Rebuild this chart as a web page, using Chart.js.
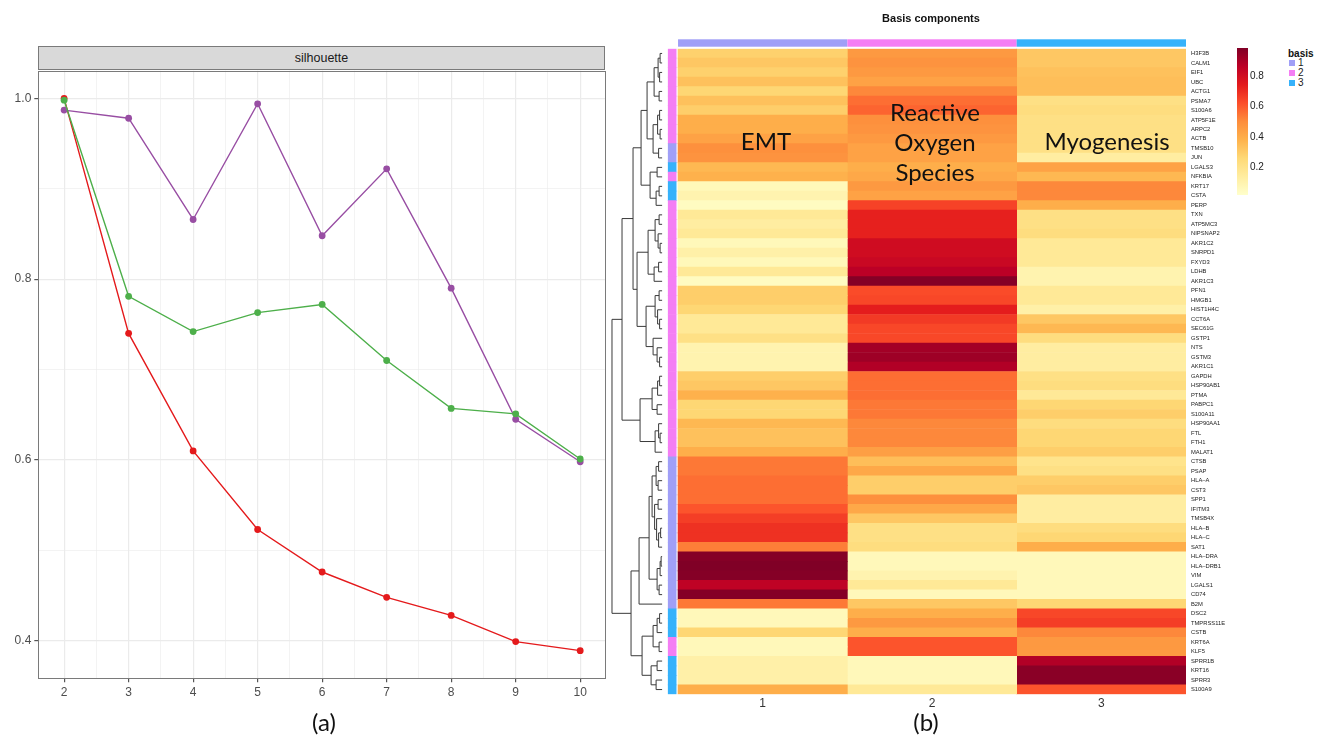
<!DOCTYPE html>
<html><head><meta charset="utf-8">
<script src="https://cdn.jsdelivr.net/npm/chart.js@4.4.0/dist/chart.umd.min.js"></script>
<style>
html,body{margin:0;padding:0;background:#fff;width:1325px;height:736px;overflow:hidden;font-family:"Liberation Sans",Arial,sans-serif;}
canvas{position:absolute;top:0;}
.t{position:absolute;white-space:nowrap;transform:translate(-50%,-50%);line-height:1;}
.big{font-family:Lato,"Open Sans",sans-serif;font-size:24px;color:#111;}
#strip{position:absolute;left:38px;top:46px;width:567px;height:24px;background:#d9d9d9;border:1px solid #7a7a7a;box-sizing:border-box;text-align:center;font-size:12.5px;line-height:22px;color:#1a1a1a;}
#cbar{position:absolute;left:1237px;top:48px;width:11px;height:147px;}
.cbl{position:absolute;left:1250px;font-size:10px;color:#222;transform:translateY(-50%);line-height:1;}
.lgsq{position:absolute;left:1289px;width:6px;height:6px;}
.lgl{position:absolute;left:1298px;font-size:10px;color:#222;transform:translateY(-50%);line-height:1;}
</style></head><body>
<canvas id="cA" width="615" height="736" style="left:0;width:615px;height:736px"></canvas>
<canvas id="cB" width="635" height="736" style="left:600px;width:635px;height:736px"></canvas>
<div id="strip">silhouette</div>
<div class="t big" style="left:324px;top:722px">(a)</div>
<div class="t big" style="left:926px;top:722px">(b)</div>
<div class="t" style="left:931px;top:18px;font-weight:bold;font-size:11px;color:#111">Basis components</div>
<div class="t big" style="left:766px;top:141px">EMT</div>
<div class="t big" style="left:935px;top:112px">Reactive</div>
<div class="t big" style="left:935px;top:142px">Oxygen</div>
<div class="t big" style="left:935px;top:172px">Species</div>
<div class="t big" style="left:1107px;top:141px">Myogenesis</div>
<div id="cbar"></div>
<div id="legend"></div>
<script>
// ---------- panel (a) data ----------
const kValues = [2,3,4,5,6,7,8,9,10];
const silhouetteRed    = [1.000,0.740,0.610,0.523,0.476,0.448,0.428,0.399,0.389];
const silhouetteGreen  = [0.998,0.781,0.742,0.763,0.772,0.710,0.657,0.651,0.601];
const silhouettePurple = [0.987,0.978,0.866,0.994,0.848,0.922,0.790,0.645,0.598];
const xTicksA = [2,3,4,5,6,7,8,9,10];
const yTicksA = [0.4,0.6,0.8,1.0];

// ---------- panel (b) data ----------
const genes = ["H3F3B","CALM1","EIF1","UBC","ACTG1","PSMA7","S100A6","ATP5F1E","ARPC2","ACTB","TMSB10","JUN","LGALS3","NFKBIA","KRT17","CSTA","PERP","TXN","ATP5MC3","NIPSNAP2","AKR1C2","SNRPD1","FXYD3","LDHB","AKR1C3","PFN1","HMGB1","HIST1H4C","CCT6A","SEC61G","GSTP1","NTS","GSTM3","AKR1C1","GAPDH","HSP90AB1","PTMA","PABPC1","S100A11","HSP90AA1","FTL","FTH1","MALAT1","CTSB","PSAP","HLA\u2013A","CST3","SPP1","IFITM3","TMSB4X","HLA\u2013B","HLA\u2013C","SAT1","HLA\u2013DRA","HLA\u2013DRB1","VIM","LGALS1","CD74","B2M","DSC2","TMPRSS11E","CSTB","KRT6A","KLF5","SPRR1B","KRT16","SPRR3","S100A9"];
const basisOfGene = [2,2,2,2,2,2,2,2,2,2,1,1,3,2,3,3,2,2,2,2,2,2,2,2,2,2,2,2,2,2,2,2,2,2,2,2,2,2,2,2,2,2,2,1,1,1,1,1,1,1,1,1,1,1,1,1,1,1,1,3,3,3,2,2,3,3,3,3];
const basis1Values = [.27,.30,.27,.32,.25,.32,.28,.38,.38,.42,.48,.47,.35,.37,.05,.08,.03,.15,.12,.15,.05,.10,.05,.15,.03,.28,.28,.25,.15,.15,.20,.08,.08,.08,.28,.30,.37,.25,.25,.35,.32,.32,.38,.53,.53,.55,.55,.55,.60,.65,.68,.68,.52,.97,.98,.97,.85,.97,.53,.05,.05,.25,.05,.05,.10,.10,.10,.38];
const basis2Values = [.45,.47,.45,.42,.50,.55,.57,.48,.47,.45,.42,.42,.38,.40,.45,.42,.64,.72,.72,.72,.80,.80,.82,.86,.97,.62,.63,.73,.66,.63,.63,.91,.92,.88,.55,.55,.55,.53,.53,.50,.50,.50,.43,.33,.40,.28,.28,.48,.40,.30,.20,.20,.22,.05,.05,.08,.15,.05,.30,.38,.45,.38,.60,.60,.05,.05,.05,.15];
const basis3Values = [.30,.30,.32,.33,.33,.20,.22,.20,.20,.20,.20,.12,.42,.35,.50,.50,.38,.20,.20,.22,.15,.15,.15,.08,.08,.15,.15,.10,.30,.35,.22,.12,.12,.12,.20,.22,.15,.25,.28,.22,.25,.25,.28,.18,.20,.28,.30,.12,.12,.12,.22,.25,.38,.05,.05,.05,.05,.05,.25,.63,.65,.50,.45,.45,.88,.96,.96,.60];
const basisLabels = ["1","2","3"];
const colorbarTicks = [0.2,0.4,0.6,0.8];
// hierarchical clustering of rows: [height, left, right], leaves = row index
const dendrogram =
[1.0,
  [0.80,
    [0.58,
      [0.42,
        [0.30,
          [0.16,[0.08,[0.04,0,1],[0.05,2,3]],[0.06,4,5]],
          [0.18,[0.09,[0.05,6,7],[0.04,8,9]],[0.07,10,11]]
        ],
        [0.24,[0.10,12,13],[0.12,[0.06,14,15],16]]
      ],
      [0.50,
        [0.28,[0.14,[0.06,17,18],[0.08,19,[0.04,20,21]]],[0.16,[0.07,22,23],24]],
        [0.32,[0.14,[0.06,25,26],[0.09,27,[0.05,28,29]]],[0.18,30,[0.10,31,[0.05,32,33]]]]
      ]
    ],
    [0.44,
      [0.20,[0.09,[0.05,34,35],36],[0.10,37,38]],
      [0.14,[0.07,39,[0.04,40,41]],42]
    ]
  ],
  [0.62,
    [0.46,
      [0.26,
        [0.20,[0.12,[0.07,43,44],[0.08,45,46]],[0.15,[0.08,47,48],[0.11,49,[0.07,[0.03,50,51],52]]]],
        [0.10,[0.04,[0.02,53,54],55],[0.06,56,57]]
      ],
      58
    ],
    [0.40,
      [0.18,[0.10,[0.05,59,60],61],[0.06,62,63]],
      [0.22,[0.10,64,65],[0.12,66,67]]
    ]
  ]
];

// ---------- styling helpers ----------
const basisColors = {1:'#a09ff7',2:'#f47ef4',3:'#36b2fb'};
const ylorrd = ['#ffffcc','#ffeda0','#fed976','#feb24c','#fd8d3c','#fc4e2a','#e31a1c','#bd0026','#800026'];
const VMAX = 0.98;
function hex2rgb(h){return [parseInt(h.substr(1,2),16),parseInt(h.substr(3,2),16),parseInt(h.substr(5,2),16)];}
function heatColor(v){
  let t = Math.max(0,Math.min(1,v/VMAX))*(ylorrd.length-1);
  let i = Math.min(Math.floor(t), ylorrd.length-2), f = t-i;
  const a=hex2rgb(ylorrd[i]), b=hex2rgb(ylorrd[i+1]);
  return 'rgb('+a.map((c,j)=>Math.round(c+(b[j]-c)*f)).join(',')+')';
}

// ---------- chart (a) ----------
const isMajor = v => Math.abs(v*10 - Math.round(v*10))<1e-6 && (Math.round(v*10)%2===0);
const panelBorder = {id:'panelBorder', afterDraw(c){const a=c.chartArea,x=c.ctx;x.save();x.strokeStyle='#7a7a7a';x.lineWidth=1;x.strokeRect(Math.round(a.left)+0.5,Math.round(a.top)+0.5,Math.round(a.right-a.left)-1,Math.round(a.bottom-a.top)-1);x.restore();}};
function mk(arr,color){return {data:kValues.map((k,i)=>({x:k,y:arr[i]})),borderColor:color,backgroundColor:color,borderWidth:1.4,pointRadius:3.4,pointBorderWidth:0,pointBackgroundColor:color,tension:0};}
new Chart(document.getElementById('cA'),{
  type:'line',
  data:{datasets:[mk(silhouetteGreen,'#4daf4a'),mk(silhouettePurple,'#984ea3'),mk(silhouetteRed,'#e41a1c')]},
  options:{
    responsive:false,animation:false,devicePixelRatio:1,
    layout:{padding:{top:70.7,right:9,bottom:35.7,left:0}},
    plugins:{legend:{display:false},tooltip:{enabled:false}},
    scales:{
      x:{type:'linear',min:1.6,max:10.4,
        afterBuildTicks:s=>{const t=[];xTicksA.forEach((v,i)=>{t.push({value:v});if(i<xTicksA.length-1)t.push({value:v+0.5});});s.ticks=t;},
        afterFit:s=>{s.height=22;},
        ticks:{color:'#4d4d4d',font:{family:'Liberation Sans',size:12},padding:3,maxRotation:0,autoSkip:false,
          callback:v=>Number.isInteger(v)?String(v):''},
        grid:{color:'#ebebeb',lineWidth:c=>Number.isInteger(c.tick.value)?1.2:0.6,drawTicks:true,tickLength:4,
          tickColor:c=>Number.isInteger(c.tick.value)?'#555':'rgba(0,0,0,0)'},
        border:{display:false}},
      y:{type:'linear',min:0.3584,max:1.0306,
        afterBuildTicks:s=>{const t=[];yTicksA.forEach((v,i)=>{t.push({value:v});if(i<yTicksA.length-1)t.push({value:+(v+0.1).toFixed(1)});});s.ticks=t;},
        afterFit:s=>{s.width=38.3;},
        ticks:{color:'#4d4d4d',font:{family:'Liberation Sans',size:12},padding:3,autoSkip:false,
          callback:v=>yTicksA.some(t=>Math.abs(t-v)<1e-6)?v.toFixed(1):''},
        grid:{color:'#ebebeb',lineWidth:c=>yTicksA.some(t=>Math.abs(t-c.tick.value)<1e-6)?1.2:0.6,drawTicks:true,tickLength:4,
          tickColor:c=>yTicksA.some(t=>Math.abs(t-c.tick.value)<1e-6)?'#555':'rgba(0,0,0,0)'},
        border:{display:false}}
    }
  },
  plugins:[panelBorder]
});

// ---------- chart (b) ----------
const annoPlugin = {id:'anno', afterDatasetsDraw(c){
  const x=c.ctx, xs=c.scales.x, ys=c.scales.y, top=c.chartArea.top;
  x.save();
  // top column annotation
  basisLabels.forEach((b,i)=>{x.fillStyle=basisColors[+b];const x0=xs.getPixelForValue(i),x1=xs.getPixelForValue(i+1);x.fillRect(x0,top-9.4,x1-x0,7.4);});
  // dendrogram
  const leafV=-0.094, rootV=-0.39;
  const hx=h=>xs.getPixelForValue(leafV+(rootV-leafV)*h);
  x.beginPath();
  (function walk(n){
    if(typeof n==='number') return {x:hx(0),y:ys.getPixelForValue(n)};
    const a=walk(n[1]), b=walk(n[2]), px=hx(n[0]);
    x.moveTo(a.x,a.y);x.lineTo(px,a.y);x.lineTo(px,b.y);x.lineTo(b.x,b.y);
    return {x:px,y:(a.y+b.y)/2};
  })(dendrogram);
  x.strokeStyle='#3a3a3a';x.lineWidth=1;x.stroke();
  x.restore();
}};
const colDs=(vals,i)=>({data:genes.map(()=>[i,i+1]),backgroundColor:vals.map(heatColor),borderWidth:0,barPercentage:1,categoryPercentage:1,grouped:false});
new Chart(document.getElementById('cB'),{
  type:'bar',
  data:{labels:genes,datasets:[
    {data:genes.map(()=>[-0.058,-0.011]),backgroundColor:basisOfGene.map(b=>basisColors[b]),borderWidth:0,barPercentage:1,categoryPercentage:1,grouped:false},
    colDs(basis1Values,0),colDs(basis2Values,1),colDs(basis3Values,2)
  ]},
  options:{
    indexAxis:'y',responsive:false,animation:false,devicePixelRatio:1,
    layout:{padding:{top:48.7,right:0,bottom:21.7,left:10.3}},
    plugins:{legend:{display:false},tooltip:{enabled:false}},
    scales:{
      x:{type:'linear',min:-0.4,max:3,
        afterBuildTicks:s=>{s.ticks=basisLabels.map((b,i)=>({value:i+0.5}));},
        afterFit:s=>{s.height=20;},
        ticks:{color:'#333',font:{family:'Liberation Sans',size:12},padding:2,autoSkip:false,maxRotation:0,
          callback:v=>basisLabels[Math.round(v-0.5)]},
        grid:{display:false,drawTicks:false},border:{display:false}},
      y:{type:'category',position:'right',
        afterFit:s=>{s.width=49;},
        ticks:{color:'#222',font:{family:'Liberation Sans',size:5.8},padding:5,autoSkip:false},
        grid:{display:false,drawTicks:false},border:{display:false}}
    }
  },
  plugins:[annoPlugin]
});

// ---------- colour bar & legend ----------
const cb=document.getElementById('cbar');
cb.style.background='linear-gradient(to top,'+ylorrd.join(',')+')';
const cbTop=48,cbH=147,cbLo=0.015,cbHi=0.985;
colorbarTicks.forEach(v=>{const d=document.createElement('div');d.className='cbl';d.textContent=v.toFixed(1);d.style.top=(cbTop+cbH-(v-cbLo)/(cbHi-cbLo)*cbH)+'px';document.body.appendChild(d);});
const lg=document.getElementById('legend');
const h=document.createElement('div');h.style.cssText='position:absolute;left:1288px;top:53.5px;transform:translateY(-50%);font-weight:bold;font-size:10px;line-height:1;color:#111';h.textContent='basis';lg.appendChild(h);
basisLabels.forEach((b,i)=>{
  const s=document.createElement('div');s.className='lgsq';s.style.top=(60+i*10)+'px';s.style.background=basisColors[+b];lg.appendChild(s);
  const l=document.createElement('div');l.className='lgl';l.style.top=(63.3+i*10)+'px';l.textContent=b;lg.appendChild(l);
});
</script>
</body></html>
